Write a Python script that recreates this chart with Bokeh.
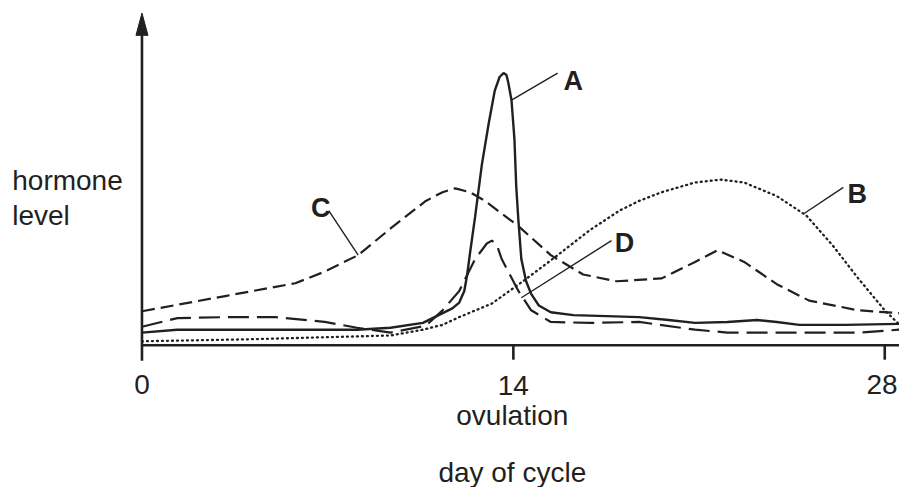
from bokeh.plotting import figure
from bokeh.models import Range1d
from bokeh.core.properties import value
from bokeh.embed import file_html
from bokeh.resources import INLINE

# ---------------- data (day of cycle, hormone level in arbitrary units) ----------------
curve_names = ["A", "B", "C", "D"]

a_days = [0, 1.33, 4.41, 8.11, 9.37, 10.59, 11.70, 11.96, 12.15, 12.26, 12.37, 12.56, 12.81,
          13.07, 13.30, 13.48, 13.63, 13.74, 13.81, 13.93, 14.04, 14.11, 14.19, 14.30, 14.48,
          14.67, 14.96, 15.41, 16.26, 18.74, 19.85, 20.85, 22.07, 23.19, 23.93, 24.78, 26.52, 28.56]
a_level = [13, 16, 16, 16, 18, 23, 38, 44, 56, 73, 96, 133, 186,
           229, 263, 277, 281, 279, 271, 253, 213, 163, 129, 89, 66,
           53, 41, 34, 31, 29, 26, 23, 24, 26, 24, 21, 21, 22]

b_days = [0, 3.93, 9.37, 10.59, 11.33, 11.96, 13.19, 14.41, 15.67, 16.89, 18.0, 18.74, 19.59,
          20.85, 21.81, 22.70, 23.93, 25.04, 26.04, 27.0, 28.0, 28.56]
b_level = [4, 6, 10, 16, 21, 29, 43, 67, 93, 119, 139, 149, 158,
           168, 171, 168, 154, 134, 103, 69, 36, 21]

c_days = [0, 3.19, 5.78, 6.89, 8.15, 9.48, 10.70, 11.33, 11.81, 12.37, 12.93, 14.19, 15.41,
          16.63, 17.89, 19.59, 20.85, 21.70, 22.70, 23.93, 25.15, 27.0, 28.56]
c_level = [35, 51, 64, 76, 93, 123, 149, 158, 162, 158, 149, 123, 93,
           73, 66, 69, 86, 98, 86, 63, 46, 36, 33]

d_days = [0, 1.33, 3.19, 5.04, 6.89, 8.11, 9.37, 10.70, 11.33, 11.96, 12.56, 13.0, 13.19, 13.37,
          13.56, 14.19, 14.67, 15.41, 16.89, 18.74, 20.85, 22.07, 27.0, 28.56]
d_level = [19, 28, 29, 29, 24, 18, 13, 20, 36, 56, 89, 105, 108, 104,
           89, 56, 36, 24, 23, 24, 16, 13, 13, 16]

tick_days = [0, 14, 28]
tick_labels = ["0", "14", "28"]

# label placement: (text x, text baseline y, leader start, leader end)
label_x = [16.26, 26.96, 6.74, 18.19]
label_y = [273, 156, 142, 106]
leader_x0 = [13.93, 24.96, 7.04, 14.30]
leader_y0 = [253, 136, 139, 49]
leader_x1 = [15.67, 26.44, 8.15, 17.70]
leader_y1 = [281, 163, 93, 108]

INK = "#231f20"
FONT = value("Liberation Sans")

W, H = 899, 487
x0, x1 = -5.333, 28.556
px_per_day = W / (x1 - x0)
p = figure(width=W, height=H,
           x_range=Range1d(x0, x1),
           y_range=Range1d(-147, 356),
           output_backend="svg", toolbar_location=None, min_border=0)
p.axis.visible = False
p.grid.visible = False
p.outline_line_color = None
p.background_fill_color = "white"
p.border_fill_color = "white"

# axes
p.segment(x0=[0], y0=[0], x1=[x1], y1=[0], line_color=INK, line_width=2.6)
p.segment(x0=[0], y0=[-16], x1=[0], y1=[322], line_color=INK, line_width=2.6)
hw = 6 / px_per_day
p.patch(x=[-hw, 0, hw], y=[320, 343, 320], fill_color=INK, line_color=INK, line_width=1)
p.segment(x0=tick_days[1:], y0=[0, 0], x1=tick_days[1:], y1=[-15, -15], line_color=INK, line_width=2.6)

# curves
p.line(b_days, b_level, line_color=INK, line_width=2.3, line_dash="1 4", line_cap="round")
p.line(c_days, c_level, line_color=INK, line_width=2.2, line_dash="13 6")
p.line(d_days, d_level, line_color=INK, line_width=2.2, line_dash="21 8")
p.line(a_days, a_level, line_color=INK, line_width=2.4)

# leader lines and labels
p.segment(x0=leader_x0, y0=leader_y0, x1=leader_x1, y1=leader_y1, line_color=INK, line_width=1.4)
p.text(x=label_x, y=label_y, text=curve_names, text_font=FONT, text_font_size="27px",
       text_font_style="bold", text_color=INK, text_align="center", text_baseline="alphabetic")

# tick labels
p.text(x=[0, 14, 27.9], y=[-41, -42, -41], text=tick_labels, text_font=FONT, text_font_size="28px",
       text_color=INK, text_align="center", text_baseline="alphabetic")

# other texts
p.text(x=[13.96], y=[-73], text=["ovulation"], text_font=FONT, text_font_size="28px",
       text_color=INK, text_align="center", text_baseline="alphabetic")
p.text(x=[13.96], y=[-131], text=["day of cycle"], text_font=FONT, text_font_size="28px",
       text_color=INK, text_align="center", text_baseline="alphabetic")
p.text(x=[-4.89, -4.89], y=[170, 134], text=["hormone", "level"], text_font=FONT,
       text_font_size="28px", text_color=INK, text_align="left", text_baseline="alphabetic")

open("out.html", "w").write(file_html(p, INLINE))
